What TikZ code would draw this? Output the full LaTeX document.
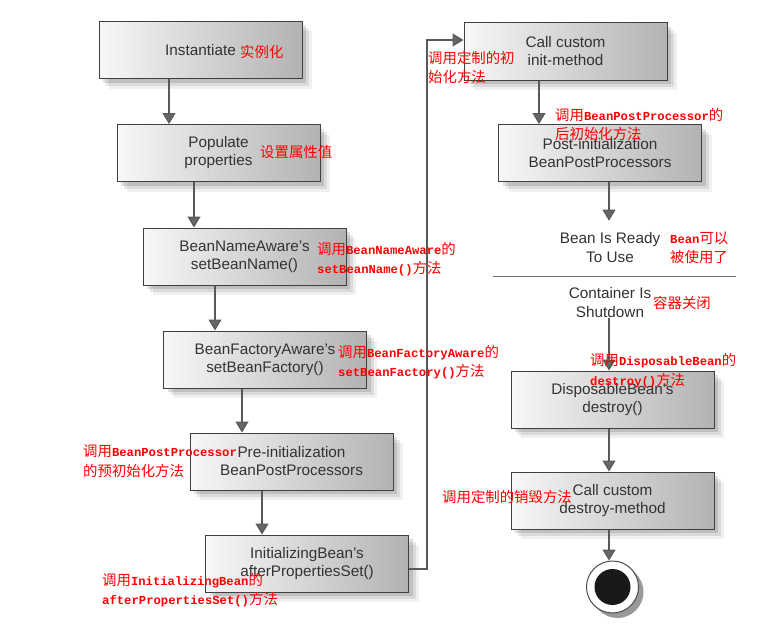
\documentclass[tikz,border=0pt]{standalone}
\usepackage{fontspec}
\setmainfont{Liberation Sans}
\newfontfamily\cjk{Noto Sans CJK SC}
\newfontfamily\redmono{Liberation Mono}[Scale=0.85]
\usetikzlibrary{arrows.meta,positioning,shadows}
\newcommand{\lat}[1]{{\redmono\bfseries #1}}
\tikzset{
  stage/.style={draw=black!75, line width=1pt, minimum width=203pt,
    minimum height=57pt, left color=black!3, right color=black!30,
    text=black!80, align=center, font=\fontsize{15.3}{18}\selectfont,
    drop shadow={opacity=.06, fill=black, shadow xshift=10pt, shadow yshift=-10pt},
    drop shadow={opacity=.09, fill=black, shadow xshift=7pt, shadow yshift=-7pt},
    drop shadow={opacity=.12, fill=black, shadow xshift=4pt, shadow yshift=-4pt}},
  plain/.style={text=black!80, align=center, inner sep=0pt,
    font=\fontsize{15.3}{19}\selectfont},
  note/.style={text=red, inner sep=0pt, anchor=west, align=left,
    font=\fontsize{14.4}{19.5}\selectfont\cjk},
  flow/.style={draw=black!65, line width=1.2pt,
    -{Triangle[width=13pt,length=11pt,fill=black!60]}},
  endring/.style={circle, draw=black!70, fill=white, line width=1pt,
    minimum size=52pt, inner sep=0pt,
    drop shadow={opacity=.4, fill=black, shadow xshift=5pt, shadow yshift=-5pt}},
}
\begin{document}
\begin{tikzpicture}[x=1pt,y=-1pt,node distance=103pt,on grid]
\fill[white] (0,0) rectangle (768,634);
\useasboundingbox (0,0) rectangle (768,634);

% left column
\node[stage] (inst) at (200.5,50) {Instantiate};
\node[stage] (pop) [below right=103pt and 18pt of inst] {Populate\\properties};
\node[stage] (bna) [below right=103.5pt and 26pt of pop] {BeanNameAware's\\setBeanName()};
\node[stage] (bfa) [below right=103pt and 20.5pt of bna] {BeanFactoryAware's\\setBeanFactory()};
\node[stage] (pre) [below right=102pt and 26.5pt of bfa] {Pre-initialization\\BeanPostProcessors};
\node[stage] (ib) [below right=102pt and 15.5pt of pre] {InitializingBean's\\afterPropertiesSet()};

% right column
\node[stage] (cinit) at (565.5,51.5) {Call custom\\init-method};
\node[stage] (post) [below right=101.5pt and 34.5pt of cinit] {Post-initialization\\BeanPostProcessors};
\node[plain] (ready) [below right=95pt and 10pt of post] {Bean Is Ready\\To Use};
\node[plain] (shut) [below=54.5pt of ready] {Container Is\\Shutdown};
\node[stage] (dis) at (612.5,399.5) {DisposableBean's\\destroy()};
\node[stage] (cdes) [below=101pt of dis] {Call custom\\destroy-method};
\node[endring] (end) [below=86.5pt of cdes] {};
\fill[black!90] (end) circle[radius=18pt];

\draw[black!55, line width=1pt] (493,276) -- (736,276);

% arrows
\foreach \a/\b/\d in {inst/pop/-49.5,pop/bna/-50.5,bna/bfa/-50,bfa/pre/-49.5,pre/ib/-45}
  \draw[flow] ([xshift=\d pt]\b.north |- \a.south) -- ([xshift=\d pt]\b.north);
\draw[flow] ([yshift=-5.5pt]ib.east) -- ++(18,0) |- ([yshift=11.5pt]cinit.west);
\draw[flow] ([xshift=-61pt]post.north |- cinit.south) -- ([xshift=-61pt]post.north);
\draw[flow] ([xshift=9pt]post.south) -- ([xshift=9pt,yshift=12pt]post.south |- ready.north);
\draw[flow] ([xshift=-3.5pt]dis.north |- shut.south) -- ([xshift=-3.5pt]dis.north);
\draw[flow] ([xshift=-3.5pt]dis.south) -- ([xshift=-3.5pt]cdes.north);
\draw[flow] ([xshift=-3.5pt]cdes.south) -- ([xshift=-3.5pt]cdes.south |- end.north);

% notes
\node[note] (n1) at (240,52) {实例化};
\node[note] (n2) at (260,152) {设置属性值};
\node[note] (n3) at (317,259) {调用\lat{BeanNameAware}的\\\lat{setBeanName()}方法};
\node[note] (n4) at (338,362) {调用\lat{BeanFactoryAware}的\\\lat{setBeanFactory()}方法};
\node[note] (n5) at (83,461) {调用\lat{BeanPostProcessor}\\的预初始化方法};
\node[note] (n6) at (102,590) {调用\lat{InitializingBean}的\\\lat{afterPropertiesSet()}方法};
\node[note] (n7) at (428,67.5) {调用定制的初\\始化方法};
\node[note] (n8) at (555,124.5) {调用\lat{BeanPostProcessor}的\\后初始化方法};
\node[note] (n9) at (670,248) {\lat{Bean}可以\\被使用了};
\node[note] (n10) at (653,303) {容器关闭};
\node[note] (n11) at (590,370.5) {调用\lat{DisposableBean}的\\\lat{destroy()}方法};
\node[note] (n12) at (442,497) {调用定制的销毁方法};
\end{tikzpicture}
\end{document}
